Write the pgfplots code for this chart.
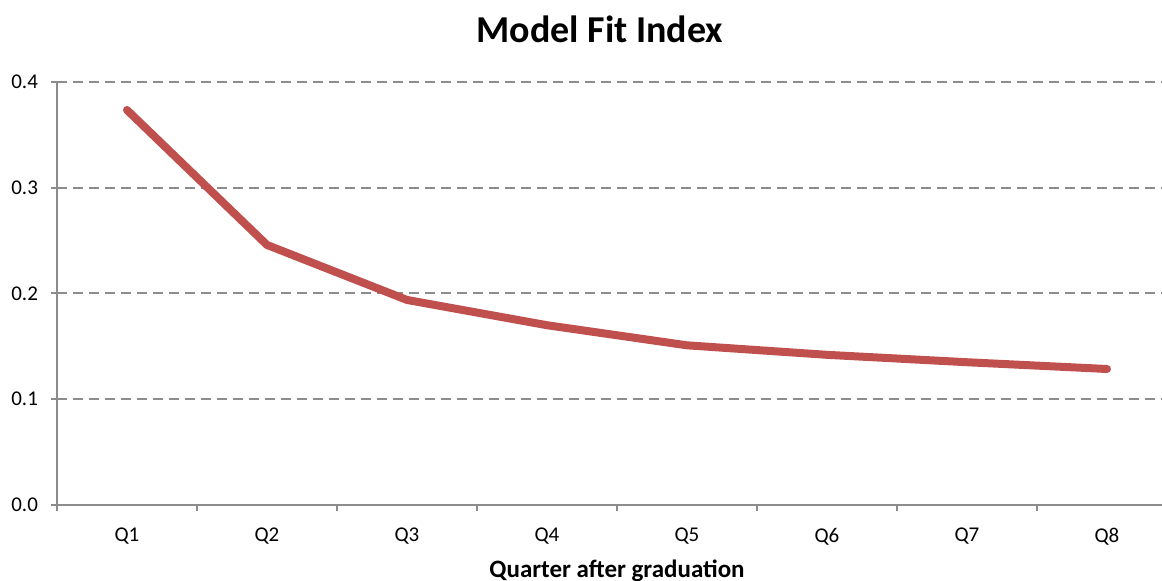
\documentclass[border=0pt]{standalone}
\usepackage{fontspec}
\setmainfont{Carlito}
\usepackage{pgfplots}
\pgfplotsset{compat=1.18}

\definecolor{linered}{HTML}{C0504D}
\definecolor{axisgray}{HTML}{8C8C8C}

\begin{document}
\begin{tikzpicture}
\begin{axis}[
  name=ax,
  scale only axis,
  width=552.5pt, height=211.5pt,
  xmin=0.5, xmax=8.393,
  ymin=0, ymax=0.4,
  axis x line*=bottom,
  axis y line*=left,
  axis line style={axisgray, line width=1pt},
  xtick={0.5,1.5,...,7.5},
  xticklabel=\empty,
  extra x ticks={1,2,3,4,5,6,7,8},
  extra x tick labels={Q1,Q2,Q3,Q4,Q5,Q6,Q7,Q8},
  extra x tick style={major tick length=0pt, grid=none},
  ytick={0,0.1,0.2,0.3,0.4},
  tick align=outside,
  major tick length=3pt,
  tick style={axisgray, line width=1pt},
  ymajorgrids=true,
  grid style={axisgray, line width=1pt, dash pattern=on 5pt off 3pt},
  yticklabel style={/pgf/number format/fixed, /pgf/number format/precision=1,
    /pgf/number format/fixed zerofill, font=\fontsize{10.5}{12}\selectfont,
    xshift=-3pt},
  xticklabel style={font=\fontsize{10.5}{12}\selectfont, yshift=-8pt},
  /pgf/number format/assume math mode=true,
  clip=false,
]
\addplot[linered, line width=4pt, line join=round, line cap=round]
  coordinates {(1,0.3735)(2,0.2459)(3,0.1939)(4,0.170)(5,0.151)(6,0.142)(7,0.135)(8,0.1286)};
\end{axis}
\node[anchor=base, font=\fontsize{19}{22}\selectfont\bfseries]
  at ([xshift=271.5pt, yshift=19.5pt]ax.north west) {Model Fit Index};
\node[anchor=base, font=\fontsize{12.5}{14}\selectfont\bfseries]
  at ([xshift=280pt, yshift=-36pt]ax.south west) {Quarter after graduation};
\pgfresetboundingbox
\path[use as bounding box] ([xshift=-28.5pt, yshift=-38pt]ax.south west)
  rectangle ([yshift=41pt]ax.north east);
\end{tikzpicture}
\end{document}
